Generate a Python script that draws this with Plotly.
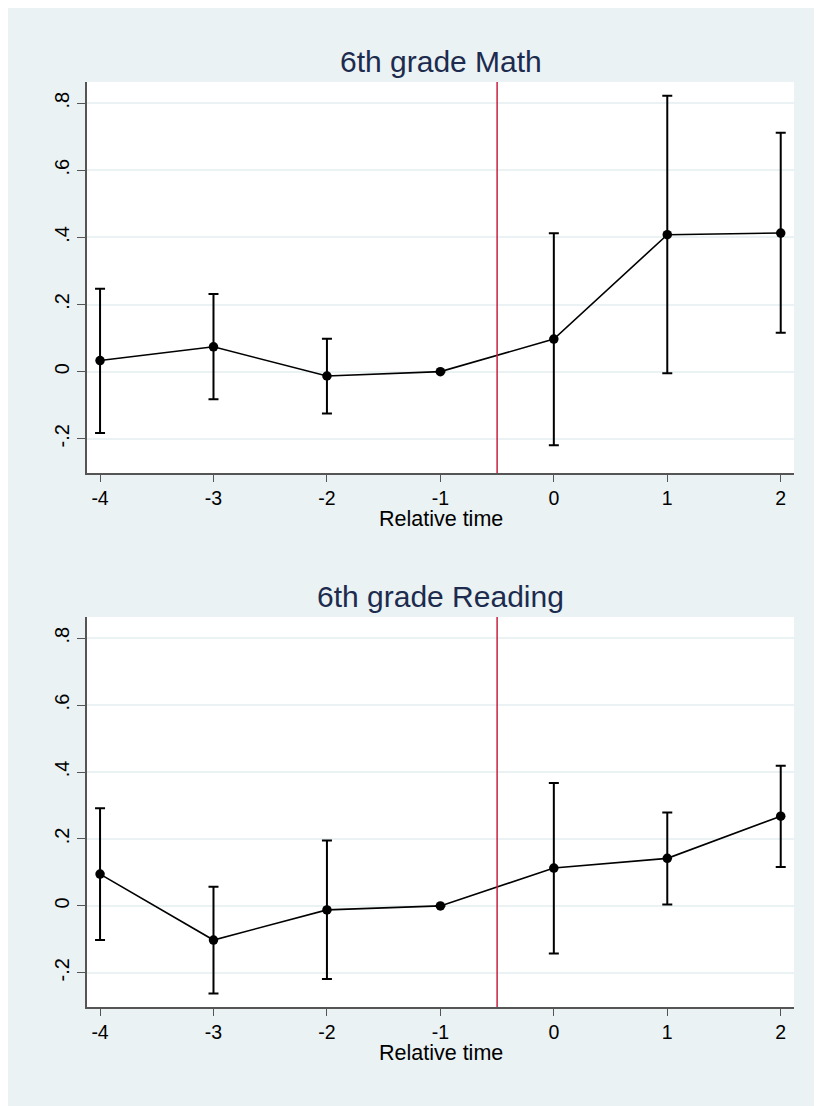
import plotly.graph_objects as go

rel_time = [-4, -3, -2, -1, 0, 1, 2]
x_tick_labels = ["-4", "-3", "-2", "-1", "0", "1", "2"]
y_tick_vals = [-0.2, 0.0, 0.2, 0.4, 0.6, 0.8]
y_tick_labels = ["-.2", "0", ".2", ".4", ".6", ".8"]

math_est = [0.033, 0.074, -0.013, 0.0, 0.097, 0.408, 0.413]
math_lo = [-0.183, -0.082, -0.125, None, -0.219, -0.005, 0.116]
math_hi = [0.247, 0.231, 0.098, None, 0.412, 0.822, 0.712]

read_est = [0.095, -0.102, -0.012, 0.0, 0.113, 0.142, 0.268]
read_lo = [-0.102, -0.262, -0.218, None, -0.142, 0.004, 0.116]
read_hi = [0.292, 0.057, 0.195, None, 0.367, 0.279, 0.419]

titles = ["6th grade Math", "6th grade Reading"]
x_title = "Relative time"
event_line = -0.5

BG = "#EAF2F3"
FONT = "Liberation Sans, Arial, Helvetica, sans-serif"
OFF = 8  # page body margin
PAGE_W, PAGE_H = 822, 1106
W, H = PAGE_W - OFF, PAGE_H - OFF
# plot area in page pixels
PL, PR, PT, PB = 87, 794, 82, 1007
L, R, T, B = PL - OFF, PAGE_W - PR, PT - OFF, PAGE_H - PB
PW = PR - PL
PH = PB - PT


def px_x(p):
    return (p - PL) / PW


def px_y(p):
    return (PB - p) / PH


top_dom = [px_y(473), 1.0]
bot_dom = [0.0, px_y(617)]

fig = go.Figure()


def add_panel(est, lo, hi, xa, ya):
    plus = [None if h is None else h - e for e, h in zip(est, hi)]
    minus = [None if l is None else e - l for e, l in zip(est, lo)]
    fig.add_trace(go.Scatter(
        x=rel_time, y=est, mode="lines+markers",
        line=dict(color="black", width=1.6),
        marker=dict(color="black", size=9.5),
        error_y=dict(type="data", symmetric=False, array=plus, arrayminus=minus,
                     color="black", thickness=2, width=5),
        xaxis=xa, yaxis=ya, showlegend=False, hoverinfo="skip",
    ))


add_panel(math_est, math_lo, math_hi, "x", "y")
add_panel(read_est, read_lo, read_hi, "x2", "y2")

xcommon = dict(range=[-4.115, 2.117], tickvals=rel_time, ticktext=x_tick_labels,
               showgrid=False, zeroline=False, showline=True, linecolor="#555555",
               linewidth=1.5, ticks="outside", ticklen=7, tickwidth=1.2,
               tickcolor="#555555", tickfont=dict(family=FONT, size=19.5, color="black"),
               domain=[0, 1])
ycommon = dict(range=[-0.302, 0.863], tickvals=y_tick_vals, ticktext=y_tick_labels,
               showgrid=True, gridcolor=BG, gridwidth=1.5, zeroline=False,
               showline=True, linecolor="#555555", linewidth=1.5, ticks="outside",
               ticklen=8, tickwidth=1.2, tickcolor="#555555", tickangle=-90,
               tickfont=dict(family=FONT, size=20, color="black"))

fig.update_layout(
    width=W, height=H,
    margin=dict(l=L, r=R, t=T, b=B, pad=0),
    paper_bgcolor=BG, plot_bgcolor="white",
    xaxis=dict(xcommon, anchor="y"),
    yaxis=dict(ycommon, domain=top_dom, anchor="x"),
    xaxis2=dict(xcommon, anchor="y2"),
    yaxis2=dict(ycommon, domain=bot_dom, anchor="x2"),
)

# vertical event line
for xr, yr in [("x", "y"), ("x2", "y2")]:
    fig.add_shape(type="line", xref=xr, yref=f"{yr} domain", x0=event_line, x1=event_line,
                  y0=0, y1=1, line=dict(color="#C8203F", width=1.5), layer="above")

cx = px_x(440.5)
for t, yc in zip(titles, [61, 596]):
    fig.add_annotation(text=t, x=cx, y=px_y(yc), xref="paper", yref="paper",
                       xanchor="center", yanchor="middle", showarrow=False,
                       font=dict(family=FONT, size=30, color="#1C2B4E"))
for yc in [519, 1053]:
    fig.add_annotation(text=x_title, x=cx, y=px_y(yc), xref="paper", yref="paper",
                       xanchor="center", yanchor="middle", showarrow=False,
                       font=dict(family=FONT, size=21.5, color="black"))

fig.write_html("out.html")
